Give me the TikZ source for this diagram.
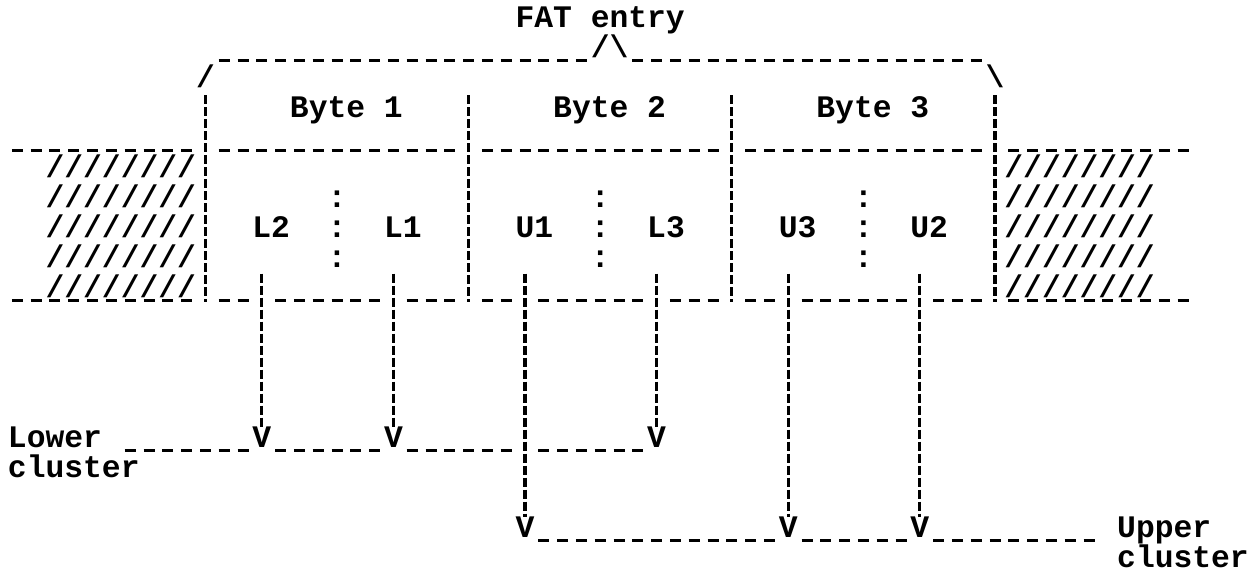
\documentclass[tikz,border=0pt]{standalone}
\usepackage{fontspec}
\newfontfamily\mono{Liberation Mono}
% one character cell is 18.8pt wide (0.6 em of a 31.33pt monospaced face)
\newcommand\glyphs{\mono\bfseries\fontsize{31.33pt}{31.33pt}\selectfont}
% underscore run covering character cells #1..#2 on row #3
\newcommand\useg[3]{\draw[hbar] ({#1-0.2926},{#3+0.44}) -- ({#2+0.2926},{#3+0.44});}
\tikzset{
  txt/.style={inner sep=0pt, anchor=base, font=\glyphs},
  hbar/.style={line width=3pt, dash pattern=on 11pt off 7.8pt},
  vbar/.style={line width=3.2pt, dash pattern=on 9pt off 3pt},
}
\begin{document}
\begin{tikzpicture}[x=18.8pt,y=-30pt]
\useasboundingbox (-0.9255,-0.5667) rectangle (65.883,18.667);

% ---- brace over the three bytes
\node[txt] (fat) at (31,0.36) {FAT entry};
\node[txt] (peakL) at (31,1.36) {/};
\node[txt] (peakR) at (32,1.36) {\textbackslash};
\node[txt] (brL) at (10,2.36) {/};
\node[txt] (brR) at (52,2.36) {\textbackslash};
\useg{11}{30}{1}
\useg{33}{51}{1}

% ---- byte headings
\node[txt] (byte1) at (17.5,3.36) {Byte 1};
\node[txt] (byte2) at (31.5,3.36) {Byte 2};
\node[txt] (byte3) at (45.5,3.36) {Byte 3};

% ---- byte dividers
\foreach \c/\n in {10/a,24/b,38/c,52/d}{
  \coordinate (div\n top) at (\c,2.6);
  \coordinate (div\n bot) at (\c,9.5);
  \draw[vbar] (div\n top) -- (div\n bot);
}

% ---- top and bottom edges of the bytes
\useg{0}{9}{4} \useg{11}{23}{4} \useg{25}{37}{4} \useg{39}{51}{4} \useg{53}{62}{4}
\useg{0}{9}{9} \useg{11}{12}{9} \useg{14}{19}{9} \useg{21}{23}{9}
\useg{25}{26}{9} \useg{28}{33}{9} \useg{35}{37}{9} \useg{39}{40}{9}
\useg{42}{47}{9} \useg{49}{51}{9} \useg{53}{62}{9}

% ---- hatched neighbours
\foreach \r in {5,...,9}{
  \node[txt] (hatchL\r) at (5.5,\r+0.36) {////////};
  \node[txt] (hatchR\r) at (56.5,\r+0.36) {////////};
}

% ---- nibble separators
\foreach \r in {6,7,8}{
  \node[txt] (sepA\r) at (17,\r+0.36) {:};
  \node[txt] (sepB\r) at (31,\r+0.36) {:};
  \node[txt] (sepC\r) at (45,\r+0.36) {:};
}

% ---- nibbles
\node[txt] (l2) at (13.5,7.36) {L2};
\node[txt] (l1) at (20.5,7.36) {L1};
\node[txt] (u1) at (27.5,7.36) {U1};
\node[txt] (l3) at (34.5,7.36) {L3};
\node[txt] (u3) at (41.5,7.36) {U3};
\node[txt] (u2) at (48.5,7.36) {U2};

% ---- lower cluster
\node[txt] (lower) at (2,14.36) {Lower};
\node[txt] (lowerc) at (3,15.36) {cluster};
\node[txt] (vl2) at (13,14.36) {V};
\node[txt] (vl1) at (20,14.36) {V};
\node[txt] (vl3) at (34,14.36) {V};
\useg{6}{12}{14} \useg{14}{19}{14} \useg{21}{26}{14} \useg{28}{33}{14}

% ---- upper cluster
\node[txt] (vu1) at (27,17.36) {V};
\node[txt] (vu3) at (41,17.36) {V};
\node[txt] (vu2) at (48,17.36) {V};
\node[txt] (upper) at (61,17.36) {Upper};
\node[txt] (upperc) at (62,18.36) {cluster};
\useg{28}{40}{17} \useg{42}{47}{17} \useg{49}{57}{17}

% ---- nibble paths down to the clusters
\foreach \c/\v in {13/vl2,20/vl1,34/vl3,27/vu1,41/vu3,48/vu2}{
  \coordinate (tap\v) at (\c,8.55);
  \draw[vbar] (tap\v) -- (\v.north);
}
\end{tikzpicture}
\end{document}
